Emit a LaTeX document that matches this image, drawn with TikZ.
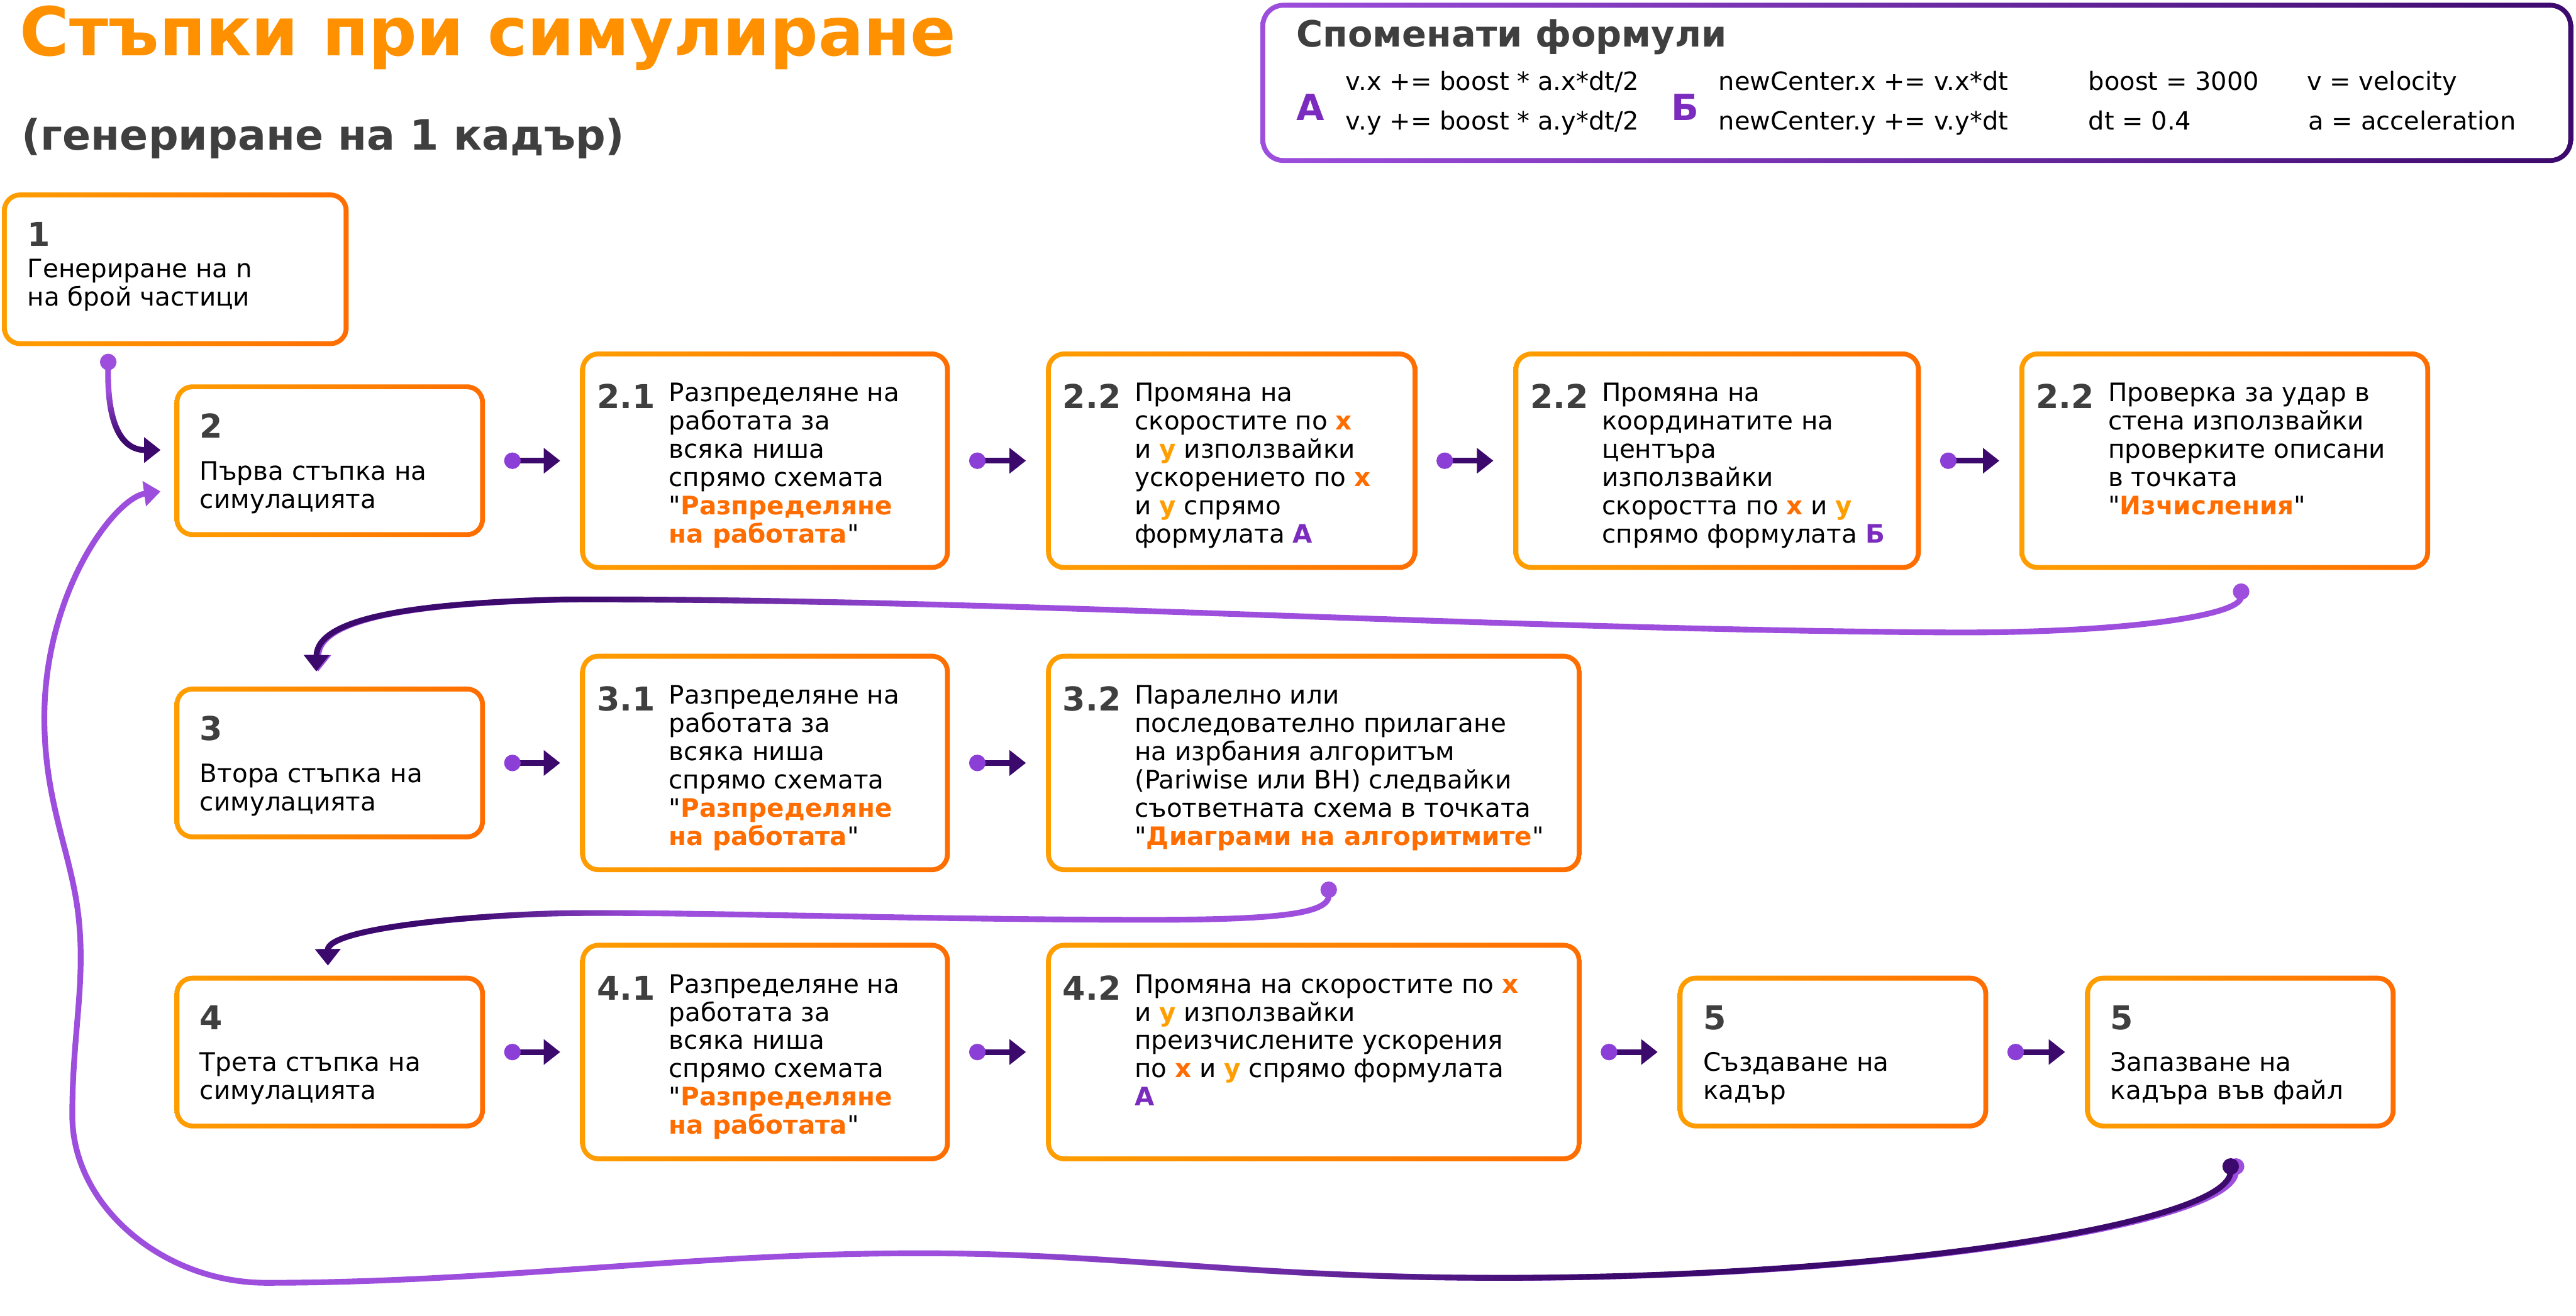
\documentclass[tikz,border=0pt]{standalone}
\usepackage{fontspec}
\setmainfont{DejaVu Sans}[Ligatures=TeXOff]
\usetikzlibrary{arrows.meta, positioning, calc, fadings}

\definecolor{boxamber}{HTML}{FF9E00}
\definecolor{boxorange}{HTML}{FF6D00}
\definecolor{titleorange}{HTML}{FF9100}
\definecolor{lightpurple}{HTML}{9D4EDD}
\definecolor{midpurple}{HTML}{7B2CBF}
\definecolor{dotpurple}{HTML}{8C3FD6}
\definecolor{darkpurple}{HTML}{3C096C}
\definecolor{numgray}{HTML}{3F3F3F}

\newcommand{\hlt}[1]{{\bfseries\color{boxorange}#1}}
\newcommand{\xcol}{{\bfseries\color{boxorange}x}}
\newcommand{\ycol}{{\bfseries\color{boxamber}y}}
\newcommand{\formA}{{\bfseries\color{midpurple}А}}
\newcommand{\formB}{{\bfseries\color{midpurple}Б}}

% fadings: where the back links turn dark
\pgfdeclarehorizontalshading{darkwestshade}{100bp}{color(0bp)=(white); color(32bp)=(white); color(41bp)=(black); color(100bp)=(black)}
\pgfdeclarefading{darkwest}{\pgfuseshading{darkwestshade}}
\pgfdeclarehorizontalshading{darkeastshade}{100bp}{color(0bp)=(black); color(46bp)=(black); color(60bp)=(white); color(100bp)=(white)}
\pgfdeclarefading{darkeast}{\pgfuseshading{darkeastshade}}
\pgfdeclareverticalshading{darksouthshade}{100bp}{color(0bp)=(white); color(32.5bp)=(white); color(55bp)=(black); color(100bp)=(black)}
\pgfdeclarefading{darksouth}{\pgfuseshading{darksouthshade}}

\begin{document}
\begin{tikzpicture}[
    x=1pt, y=-1pt,
    font=\fontsize{15.5}{17.2}\selectfont,
    stepbox/.style 2 args={minimum width=#1, minimum height=#2,
        inner sep=0pt, rounded corners=11pt,
        left color=boxamber, right color=boxorange,
        path picture={\fill[white, rounded corners=8pt]
            ([shift={(3pt,3pt)}]path picture bounding box.south west) rectangle
            ([shift={(-3pt,-3pt)}]path picture bounding box.north east);}},
    small box/.style={stepbox={189pt}{93pt}, anchor=west},
    tall box/.style={stepbox={#1}{133pt}, anchor=west},
    formbox/.style={minimum width=799pt, minimum height=97.5pt,
        inner sep=0pt, rounded corners=14pt,
        left color=lightpurple, right color=darkpurple,
        path picture={\fill[white, rounded corners=11pt]
            ([shift={(3pt,3pt)}]path picture bounding box.south west) rectangle
            ([shift={(-3pt,-3pt)}]path picture bounding box.north east);}},
    step num/.style={font=\fontsize{20}{20}\selectfont\bfseries, text=numgray,
        inner sep=0pt},
    step text/.style={align=left, inner sep=0pt, anchor=base west},
    title text/.style={font=\fontsize{41}{41}\selectfont\bfseries,
        text=titleorange, inner sep=0pt, anchor=base west},
    sub text/.style={font=\fontsize{25.5}{26}\selectfont\bfseries,
        text=numgray, inner sep=0pt, anchor=base west},
    form head/.style={font=\fontsize{22}{22}\selectfont\bfseries,
        text=numgray, inner sep=0pt, anchor=base west},
    form big/.style={font=\fontsize{22}{22}\selectfont\bfseries,
        text=midpurple, inner sep=0pt, anchor=base west},
    form text/.style={font=\fontsize{15.3}{16}\selectfont,
        inner sep=0pt, anchor=base west},
    link/.style={draw=darkpurple, line width=3.4pt,
        {Circle[length=10pt, color=dotpurple]}-{Triangle[length=10pt, width=15pt]}},
    backflow/.style={draw=lightpurple, line width=3.5pt,
        {Circle[length=10pt]}-{Triangle[length=10pt, width=15pt]},
        postaction={draw=darkpurple, path fading=#1}},
]

% ══════════════════════════════════════════════════════════════════════
%  GRID — row centres and left edges of the columns
%  (text nodes sit on the baseline of their LAST line)
% ══════════════════════════════════════════════════════════════════════
\def\rowB{280.5}  \def\rowC{464.5}  \def\rowD{640.5}
\def\colA{106}    \def\colB{353}    \def\colC{636.5}
\def\colD{921}    \def\colE{1229}   \def\colF{1021}   \def\colG{1269}
\def\baseTwo{75.7}  \def\baseFive{99.5}  \def\baseSix{116.7}

\path[use as bounding box, fill=white] (0,0) rectangle (1568,801);

% ── Title ─────────────────────────────────────────────────────────────
\node[title text] (title) at (12,34) {Стъпки при симулиране};
\node[sub text] (subtitle) at (13,91.4) {(генериране на 1 кадър)};

% ── Formula legend ────────────────────────────────────────────────────
\node[formbox, anchor=north west] (formulas) at (767,1.5) {};
\node[form head] (fhead) at (789,28.6) {Споменати формули};
\node[form big] (fa) at (789,73.3) {А};
\node[form big] (fb) at (1017,73.3) {Б};
\node[form text] (fa1) at (819,55) {v.x += boost * a.x*dt/2};
\node[form text] (fa2) at (819,79) {v.y += boost * a.y*dt/2};
\node[form text] (fb1) at (1046,55) {newCenter.x += v.x*dt};
\node[form text] (fb2) at (1046,79) {newCenter.y += v.y*dt};
\node[form text] (fc1) at (1271,55) {boost = 3000};
\node[form text] (fc2) at (1271,79) {dt = 0.4};
\node[form text] (fd1) at (1404,55) {v = velocity};
\node[form text] (fd2) at (1405,79) {a = acceleration};

% ── Step 1 ────────────────────────────────────────────────────────────
\node[stepbox={211pt}{93.5pt}, anchor=north west] (b1) at (1,117) {};
\node[step num, anchor=base west] (n1) at ([shift={(15.5,33)}]b1.north west) {1};
\node[step text] (t1) at ([shift={(15.5,69.2)}]b1.north west)
    {Генериране на n\\на брой частици};

% ── Row 2 ─────────────────────────────────────────────────────────────
\node[small box] (b2) at (\colA,\rowB) {};
\node[step num, anchor=base west] (n2) at ([shift={(15.5,33)}]b2.north west) {2};
\node[step text] (t2) at ([shift={(15.5,\baseTwo)}]b2.north west)
    {Първа стъпка на\\симулацията};

\node[tall box=225pt] (b21) at (\colB,\rowB) {};
\node[step num, anchor=base east] (n21) at ([shift={(46,35)}]b21.north west) {2.1};
\node[step text] (t21) at ([shift={(54,\baseSix)}]b21.north west)
    {Разпределяне на\\работата за\\всяка ниша\\спрямо схемата\\"\hlt{Разпределяне}\\\hlt{на работата}"};

\node[tall box=226pt] (b22a) at (\colC,\rowB) {};
\node[step num, anchor=base east] (n22a) at ([shift={(46,35)}]b22a.north west) {2.2};
\node[step text] (t22a) at ([shift={(54,\baseSix)}]b22a.north west)
    {Промяна на\\скоростите по \xcol\\и \ycol{} използвайки\\ускорението по \xcol\\и \ycol{} спрямо\\формулата \formA};

\node[tall box=248pt] (b22b) at (\colD,\rowB) {};
\node[step num, anchor=base east] (n22b) at ([shift={(46,35)}]b22b.north west) {2.2};
\node[step text] (t22b) at ([shift={(54,\baseSix)}]b22b.north west)
    {Промяна на\\координатите на\\центъра\\използвайки\\скоростта по \xcol{} и \ycol\\спрямо формулата \formB};

\node[tall box=250pt] (b22c) at (\colE,\rowB) {};
\node[step num, anchor=base east] (n22c) at ([shift={(46,35)}]b22c.north west) {2.2};
\node[step text] (t22c) at ([shift={(54,\baseFive)}]b22c.north west)
    {Проверка за удар в\\стена използвайки\\проверките описани\\в точката\\"\hlt{Изчисления}"};

% ── Row 3 ─────────────────────────────────────────────────────────────
\node[small box] (b3) at (\colA,\rowC) {};
\node[step num, anchor=base west] (n3) at ([shift={(15.5,33)}]b3.north west) {3};
\node[step text] (t3) at ([shift={(15.5,\baseTwo)}]b3.north west)
    {Втора стъпка на\\симулацията};

\node[tall box=225pt] (b31) at (\colB,\rowC) {};
\node[step num, anchor=base east] (n31) at ([shift={(46,35)}]b31.north west) {3.1};
\node[step text] (t31) at ([shift={(54,\baseSix)}]b31.north west)
    {Разпределяне на\\работата за\\всяка ниша\\спрямо схемата\\"\hlt{Разпределяне}\\\hlt{на работата}"};

\node[tall box=326pt] (b32) at (\colC,\rowC) {};
\node[step num, anchor=base east] (n32) at ([shift={(46,35)}]b32.north west) {3.2};
\node[step text] (t32) at ([shift={(54,\baseSix)}]b32.north west)
    {Паралелно или\\последователно прилагане\\на изрбания алгоритъм\\(Pariwise или BH) следвайки\\съответната схема в точката\\"\hlt{Диаграми на алгоритмите}"};

% ── Row 4 ─────────────────────────────────────────────────────────────
\node[small box] (b4) at (\colA,\rowD) {};
\node[step num, anchor=base west] (n4) at ([shift={(15.5,33)}]b4.north west) {4};
\node[step text] (t4) at ([shift={(15.5,\baseTwo)}]b4.north west)
    {Трета стъпка на\\симулацията};

\node[tall box=225pt] (b41) at (\colB,\rowD) {};
\node[step num, anchor=base east] (n41) at ([shift={(46,35)}]b41.north west) {4.1};
\node[step text] (t41) at ([shift={(54,\baseSix)}]b41.north west)
    {Разпределяне на\\работата за\\всяка ниша\\спрямо схемата\\"\hlt{Разпределяне}\\\hlt{на работата}"};

\node[tall box=326pt] (b42) at (\colC,\rowD) {};
\node[step num, anchor=base east] (n42) at ([shift={(46,35)}]b42.north west) {4.2};
\node[step text] (t42) at ([shift={(54,\baseFive)}]b42.north west)
    {Промяна на скоростите по \xcol\\и \ycol{} използвайки\\преизчислените ускорения\\по \xcol{} и \ycol{} спрямо формулата\\\formA};

\node[small box] (b5a) at (\colF,\rowD) {};
\node[step num, anchor=base west] (n5a) at ([shift={(15.5,33)}]b5a.north west) {5};
\node[step text] (t5a) at ([shift={(15.5,\baseTwo)}]b5a.north west)
    {Създаване на\\кадър};

\node[small box] (b5b) at (\colG,\rowD) {};
\node[step num, anchor=base west] (n5b) at ([shift={(15.5,33)}]b5b.north west) {5};
\node[step text] (t5b) at ([shift={(15.5,\baseTwo)}]b5b.north west)
    {Запазване на\\кадъра във файл};

% ── Links inside a row ────────────────────────────────────────────────
\foreach \a/\b in {b2/b21, b21/b22a, b22a/b22b, b22b/b22c, b3/b31, b31/b32,
                   b4/b41, b41/b42, b42/b5a, b5a/b5b}
  \draw[link] ([xshift=11.5pt]\a.east) -- ([xshift=-12pt]\b.west);

% ── Back links (row to row) ───────────────────────────────────────────
\coordinate (c1s) at ([shift={(65,4.5)}]b1.south west);
\coordinate (c1e) at ([shift={(-8.3,-6.5)}]b2.west);
\draw[backflow=darksouth] (c1s) .. controls (65,262) and (76,274) .. (c1e);

\coordinate (c2s) at ([shift={(10,8)}]b22c.south);
\coordinate (c2e) at ([shift={(-7,-9)}]b3.north);
\draw[backflow=darkwest] (c2s) .. controls (1364,375) and (1290,386) .. (1180,385)
    .. controls (900,383) and (600,364) .. (344,365)
    .. controls (260,367) and (194,375) .. (c2e);

\coordinate (c3s) at ([shift={(9,5.5)}]b32.south);
\coordinate (c3e) at ([shift={(-1,-6)}]b4.north);
\draw[backflow=darkwest] (c3s) .. controls (809,556) and (780,560) .. (700,560)
    .. controls (560,560) and (420,555) .. (344,556)
    .. controls (290,557) and (199.5,565) .. (c3e);

\coordinate (c4s) at ([shift={(-2.5,18)}]b5b.south);
\coordinate (c4e) at ([shift={(-8.3,18.7)}]b2.west);
\draw[backflow=darkeast] (c4s) .. controls (1360,745) and (1150,778) .. (915,778)
    .. controls (760,778) and (680,763) .. (560,763)
    .. controls (420,763) and (300,781) .. (162,781)
    .. controls (100,781) and (44,735) .. (44,679)
    .. controls (44,630) and (52,600) .. (48,560)
    .. controls (44,520) and (27,490) .. (27,437)
    .. controls (27,360) and (70,303) .. (c4e);

\end{tikzpicture}
\end{document}
